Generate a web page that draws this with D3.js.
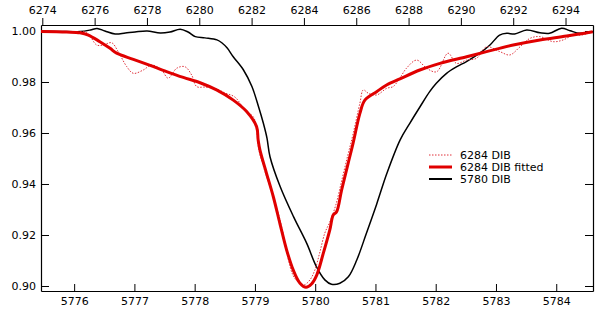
<!DOCTYPE html>
<html>
<head>
<meta charset="utf-8">
<script src="https://cdn.jsdelivr.net/npm/d3@7"></script>
<style>
  body { margin: 0; background: #fff; }
  svg text { font-family: "DejaVu Sans", Verdana, sans-serif; }
</style>
</head>
<body>
<div id="display"></div>
<script>
// 6284 DIB observed (top axis wavelength, normalised flux)
var obsWave = [6273.95, 6274.68, 6275.25, 6275.70, 6276.08, 6276.33, 6276.65, 6276.90, 6277.23, 6277.48,
    6277.86, 6278.18, 6278.56, 6278.81, 6279.14, 6279.45, 6279.71, 6279.90, 6280.22, 6280.66,
    6280.98, 6281.36, 6281.75, 6282.06, 6282.17, 6282.28, 6282.47, 6282.70, 6282.93, 6283.16,
    6283.39, 6283.58, 6283.77, 6284.00, 6284.23, 6284.42, 6284.61, 6284.80, 6284.99, 6285.22,
    6285.45, 6285.68, 6285.87, 6286.14, 6286.27, 6286.46, 6286.78, 6287.16, 6287.41, 6287.67,
    6287.92, 6288.31, 6288.69, 6289.07, 6289.51, 6289.83, 6290.22, 6290.60, 6290.98, 6291.49,
    6291.87, 6292.26, 6292.64, 6293.02, 6293.53, 6293.91, 6294.29, 6294.61, 6295.04];
var obsFlux = [0.9998, 0.9996, 0.9996, 0.9994, 0.9945, 0.9945, 0.9954, 0.9919, 0.9860, 0.9834,
    0.9847, 0.9867, 0.9847, 0.9815, 0.9854, 0.9860, 0.9827, 0.9782, 0.9780, 0.9773,
    0.9757, 0.9741, 0.9690, 0.9664, 0.9631, 0.9533, 0.9463, 0.9389, 0.9318, 0.9227,
    0.9110, 0.9043, 0.9016, 0.9004, 0.9024, 0.9063, 0.9133, 0.9208, 0.9251, 0.9318,
    0.9416, 0.9514, 0.9592, 0.9717, 0.9769, 0.9756, 0.9749, 0.9775, 0.9782, 0.9816,
    0.9854, 0.9886, 0.9854, 0.9840, 0.9913, 0.9873, 0.9886, 0.9893, 0.9938, 0.9919,
    0.9906, 0.9938, 0.9971, 0.9978, 0.9958, 0.9965, 0.9984, 0.9984, 0.9997];

// 6284 DIB fitted profile
var fitWave = [6273.95, 6274.93, 6275.44, 6275.76, 6276.20, 6276.59, 6276.84, 6277.48, 6278.12, 6278.75,
    6279.39, 6280.03, 6280.66, 6281.30, 6281.81, 6282.19, 6282.25, 6282.32, 6282.57, 6282.83,
    6283.08, 6283.34, 6283.59, 6283.85, 6284.08, 6284.29, 6284.49, 6284.74, 6284.99, 6285.12,
    6285.25, 6285.44, 6285.69, 6285.88, 6286.14, 6286.33, 6286.78, 6287.16, 6287.67, 6288.43,
    6289.20, 6290.22, 6290.98, 6292.00, 6293.02, 6294.04, 6295.04];
var fitFlux = [0.9998, 0.9996, 0.9993, 0.9984, 0.9958, 0.9932, 0.9913, 0.9889, 0.9865, 0.9841,
    0.9818, 0.9797, 0.9769, 0.9729, 0.9684, 0.9625, 0.9573, 0.9533, 0.9442, 0.9350,
    0.9246, 0.9141, 0.9063, 0.9011, 0.8995, 0.9008, 0.9043, 0.9128, 0.9220, 0.9278,
    0.9291, 0.9376, 0.9481, 0.9560, 0.9677, 0.9729, 0.9762, 0.9788, 0.9812, 0.9847,
    0.9873, 0.9899, 0.9919, 0.9945, 0.9965, 0.9980, 0.9997];

// 5780 DIB (bottom axis wavelength)
var refWave = [5775.45, 5775.77, 5776.10, 5776.27, 5776.38, 5776.51, 5776.68, 5776.85, 5777.01, 5777.21,
    5777.43, 5777.59, 5777.76, 5777.89, 5778.01, 5778.17, 5778.37, 5778.45, 5778.54, 5778.64,
    5778.81, 5778.95, 5779.06, 5779.14, 5779.20, 5779.25, 5779.42, 5779.64, 5779.86, 5780.02,
    5780.16, 5780.27, 5780.41, 5780.55, 5780.69, 5780.85, 5781.02, 5781.19, 5781.41, 5781.57,
    5781.74, 5781.90, 5782.01, 5782.18, 5782.35, 5782.51, 5782.73, 5782.90, 5783.06, 5783.18,
    5783.31, 5783.51, 5783.73, 5783.89, 5784.09, 5784.23, 5784.39, 5784.61];
var refFlux = [1.0000, 0.9998, 0.9998, 1.0004, 1.0010, 1.0000, 0.9988, 0.9992, 0.9996, 1.0000,
    0.9992, 0.9996, 1.0007, 0.9996, 0.9978, 0.9973, 0.9965, 0.9954, 0.9933, 0.9899,
    0.9847, 0.9782, 0.9703, 0.9638, 0.9580, 0.9507, 0.9389, 0.9272, 0.9167, 0.9076,
    0.9024, 0.9007, 0.9011, 0.9036, 0.9102, 0.9207, 0.9321, 0.9442, 0.9573, 0.9638,
    0.9703, 0.9762, 0.9795, 0.9834, 0.9860, 0.9880, 0.9913, 0.9945, 0.9984, 0.9991,
    0.9988, 1.0004, 0.9993, 0.9991, 1.0011, 1.0001, 0.9991, 0.9997];

var topTicks = [6274, 6276, 6278, 6280, 6282, 6284, 6286, 6288, 6290, 6292, 6294];
var bottomTicks = [5776, 5777, 5778, 5779, 5780, 5781, 5782, 5783, 5784];
var yTicks = [0.90, 0.92, 0.94, 0.96, 0.98, 1.00];
var legendLabels = ["6284 DIB", "6284 DIB fitted", "5780 DIB"];

var width = 600, height = 309;
var margin = {left: 41, top: 25, right: 7, bottom: 18};
var w = width - margin.left - margin.right;
var h = height - margin.top - margin.bottom;

var svg = d3.select("#display").append("svg")
    .attr("width", width).attr("height", height);
var g = svg.append("g").attr("transform", "translate(" + margin.left + "," + margin.top + ")");

var xTop = d3.scaleLinear().domain([6273.95, 6295.05]).range([0, w]);
var xBot = d3.scaleLinear().domain([5775.45, 5784.61]).range([0, w]);
var y = d3.scaleLinear().domain([0.89804, 1.00235]).range([h, 0]);

// axes: top ticks point out, the others point in
var styleAxis = function (sel) {
    sel.selectAll("path.domain").attr("stroke", "#000").attr("stroke-width", 1.2);
    sel.selectAll(".tick line").attr("stroke", "#000");
    sel.selectAll("text").attr("font-size", 11).attr("fill", "#000")
        .attr("font-family", "DejaVu Sans, sans-serif");
};

g.append("g")
    .call(d3.axisTop(xTop).tickValues(topTicks).tickFormat(d3.format("d"))
        .tickSizeInner(7).tickSizeOuter(0).tickPadding(4))
    .call(styleAxis);

g.append("g").attr("transform", "translate(0," + h + ")")
    .call(d3.axisBottom(xBot).tickValues(bottomTicks).tickFormat(d3.format("d"))
        .tickSizeInner(-7).tickSizeOuter(0).tickPadding(6))
    .call(styleAxis);

g.append("g")
    .call(d3.axisLeft(y).tickValues(yTicks).tickFormat(d3.format(".2f"))
        .tickSizeInner(-8).tickSizeOuter(0).tickPadding(5))
    .call(styleAxis);

g.append("g").attr("transform", "translate(" + w + ",0)")
    .call(d3.axisRight(y).tickValues(yTicks).tickFormat("")
        .tickSizeInner(-8).tickSizeOuter(0))
    .call(styleAxis);

var zip = function (xs, ys) { return xs.map(function (d, i) { return [d, ys[i]]; }); };

var lineTop = d3.line().x(function (d) { return xTop(d[0]); }).y(function (d) { return y(d[1]); })
    .curve(d3.curveCatmullRom.alpha(0.5));
var lineBot = d3.line().x(function (d) { return xBot(d[0]); }).y(function (d) { return y(d[1]); })
    .curve(d3.curveCatmullRom.alpha(0.5));

g.append("path").datum(zip(refWave, refFlux))
    .attr("d", lineBot).attr("fill", "none").attr("stroke", "#000").attr("stroke-width", 1.5);

g.append("path").datum(zip(obsWave, obsFlux))
    .attr("d", lineTop).attr("fill", "none").attr("stroke", "#e0303a")
    .attr("stroke-width", 1).attr("stroke-dasharray", "1.5,1.5");

g.append("path").datum(zip(fitWave, fitFlux))
    .attr("d", lineTop).attr("fill", "none").attr("stroke", "#e00000").attr("stroke-width", 3)
    .attr("stroke-linejoin", "round");

// legend
var legend = svg.append("g").attr("transform", "translate(429,155)");
var legendStyle = [
    {stroke: "#e0303a", width: 1, dash: "1.5,1.5"},
    {stroke: "#e00000", width: 3, dash: null},
    {stroke: "#000", width: 2, dash: null}
];
legendLabels.forEach(function (label, i) {
    var row = legend.append("g").attr("transform", "translate(0," + (i * 12) + ")");
    row.append("line").attr("x1", 0).attr("x2", 23).attr("y1", 0).attr("y2", 0)
        .attr("stroke", legendStyle[i].stroke).attr("stroke-width", legendStyle[i].width)
        .attr("stroke-dasharray", legendStyle[i].dash);
    row.append("text").attr("x", 31).attr("y", 4).attr("font-size", 11).text(label);
});
</script>
</body>
</html>
